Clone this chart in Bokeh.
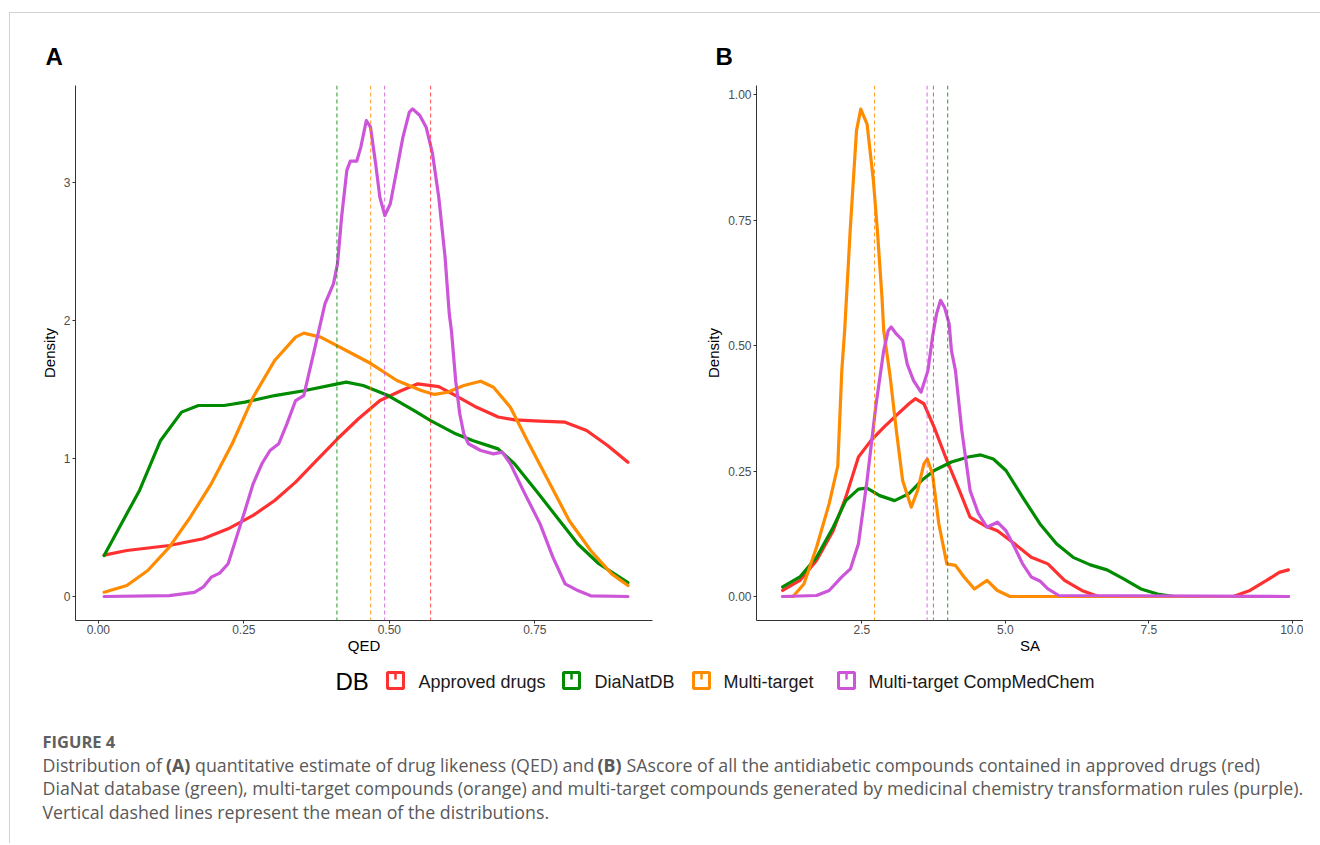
from bokeh.plotting import figure
from bokeh.models import Range1d, FixedTicker, NumeralTickFormatter, Span, Label, Div, Spacer
from bokeh.layouts import row, column
from bokeh.embed import file_html
from bokeh.resources import INLINE

# ---------------- data ----------------
db_names = ["Approved drugs", "DiaNatDB", "Multi-target", "Multi-target CompMedChem"]
db_colors = ["#FF3030", "#008B00", "#FF8C00", "#CC55D9"]

# Panel A: QED densities
qed_approved_x = [0.01, 0.049, 0.122, 0.18, 0.223, 0.266, 0.303, 0.339, 0.375, 0.411, 0.447, 0.484, 0.52, 0.549,
                  0.585, 0.614, 0.65, 0.687, 0.715, 0.759, 0.802, 0.839, 0.875, 0.91]
qed_approved_y = [0.30, 0.333, 0.369, 0.418, 0.49, 0.587, 0.695, 0.828, 0.985, 1.142, 1.287, 1.419, 1.49, 1.54,
                  1.52, 1.455, 1.37, 1.30, 1.279, 1.27, 1.262, 1.202, 1.093, 0.972]

qed_dianat_x = [0.01, 0.071, 0.107, 0.143, 0.172, 0.216, 0.252, 0.303, 0.353, 0.411, 0.426, 0.455, 0.498, 0.542,
                0.571, 0.614, 0.643, 0.687, 0.715, 0.752, 0.788, 0.824, 0.86, 0.91]
qed_dianat_y = [0.297, 0.77, 1.13, 1.335, 1.383, 1.383, 1.407, 1.455, 1.49, 1.54, 1.552, 1.528, 1.455, 1.347,
                1.274, 1.178, 1.13, 1.069, 0.961, 0.768, 0.574, 0.38, 0.237, 0.10]

qed_multi_x = [0.01, 0.049, 0.085, 0.122, 0.158, 0.194, 0.23, 0.266, 0.303, 0.339, 0.353, 0.382, 0.426, 0.469,
               0.513, 0.556, 0.578, 0.600, 0.628, 0.657, 0.679, 0.708, 0.737, 0.773, 0.809, 0.846, 0.882, 0.91]
qed_multi_y = [0.031, 0.08, 0.188, 0.357, 0.574, 0.816, 1.106, 1.443, 1.709, 1.878, 1.907, 1.878, 1.781, 1.685,
               1.564, 1.49, 1.463, 1.479, 1.528, 1.559, 1.515, 1.37, 1.13, 0.84, 0.55, 0.333, 0.164, 0.08]

qed_cmc_x = [0.01, 0.122, 0.165, 0.18, 0.194, 0.2085, 0.223, 0.2375, 0.252, 0.266, 0.281, 0.295, 0.31, 0.324,
             0.339, 0.353, 0.371, 0.3895, 0.404, 0.411, 0.418, 0.427, 0.433, 0.444, 0.451, 0.4605, 0.4677, 0.4765,
             0.4837, 0.4923, 0.5017, 0.5126, 0.5234, 0.5344, 0.540, 0.5524, 0.5633, 0.5742, 0.585, 0.5958, 0.603,
             0.6067, 0.614, 0.621, 0.628, 0.636, 0.657, 0.679, 0.694, 0.708, 0.73, 0.759, 0.781, 0.802, 0.824,
             0.846, 0.91]
qed_cmc_y = [0, 0.006, 0.03, 0.067, 0.14, 0.169, 0.237, 0.43, 0.623, 0.816, 0.961, 1.057, 1.106, 1.25,
             1.419, 1.455, 1.78, 2.12, 2.264, 2.41, 2.746, 3.085, 3.152, 3.152, 3.254, 3.446, 3.398, 3.133,
             2.892, 2.759, 2.844, 3.085, 3.326, 3.507, 3.531, 3.483, 3.398, 3.206, 2.89, 2.457, 2.047,
             1.926, 1.564, 1.323, 1.178, 1.106, 1.057, 1.033, 1.045, 0.961, 0.768, 0.526, 0.285, 0.092, 0.043,
             0.005, 0]

qed_means = [0.571, 0.41, 0.468, 0.492]

# Panel B: SA score densities
sa_approved_x = [1.12, 1.42, 1.71, 2.0, 2.22, 2.44, 2.66, 2.88, 3.1, 3.32, 3.43, 3.58, 3.76, 3.98, 4.2, 4.385,
                 4.64, 4.86, 5.16, 5.45, 5.74, 6.03, 6.33, 6.62, 8.97, 9.26, 9.55, 9.77, 9.93]
sa_approved_y = [0.012, 0.032, 0.072, 0.131, 0.198, 0.278, 0.311, 0.337, 0.361, 0.384, 0.394, 0.384, 0.337, 0.271,
                 0.211, 0.158, 0.141, 0.131, 0.105, 0.078, 0.065, 0.032, 0.012, 0, 0, 0.012, 0.032, 0.048, 0.053]

sa_dianat_x = [1.12, 1.42, 1.71, 2.0, 2.22, 2.44, 2.59, 2.81, 3.07, 3.32, 3.54, 3.76, 4.06, 4.35, 4.57, 4.79,
               5.01, 5.3, 5.6, 5.89, 6.18, 6.48, 6.77, 7.06, 7.36, 7.65, 7.94, 9.93]
sa_dianat_y = [0.019, 0.039, 0.078, 0.138, 0.191, 0.214, 0.216, 0.201, 0.191, 0.205, 0.231, 0.251, 0.268, 0.278,
               0.282, 0.274, 0.251, 0.198, 0.145, 0.105, 0.078, 0.063, 0.053, 0.035, 0.015, 0.005, 0, 0]

sa_multi_x = [1.12, 1.3, 1.49, 1.71, 1.93, 2.08, 2.15, 2.2, 2.296, 2.406, 2.48, 2.59, 2.70, 2.77, 2.85, 2.88,
              2.99, 3.1, 3.21, 3.36, 3.47, 3.58, 3.64, 3.73, 3.84, 3.98, 4.13, 4.28, 4.46, 4.68, 4.86, 5.08, 9.93]
sa_multi_y = [0, 0, 0.025, 0.098, 0.185, 0.26, 0.45, 0.53, 0.729, 0.928, 0.971, 0.941, 0.829, 0.729, 0.596, 0.53,
              0.44, 0.331, 0.231, 0.178, 0.211, 0.264, 0.274, 0.244, 0.145, 0.065, 0.062, 0.039, 0.015, 0.032,
              0.012, 0, 0]

sa_cmc_x = [1.12, 1.71, 1.93, 2.15, 2.30, 2.44, 2.59, 2.74, 2.88, 2.96, 3.01, 3.1, 3.21, 3.29, 3.40, 3.53, 3.65,
            3.73, 3.80, 3.87, 3.94, 4.02, 4.06, 4.13, 4.24, 4.385, 4.53, 4.68, 4.86, 5.01, 5.16, 5.3, 5.45, 5.6,
            5.74, 5.93, 9.93]
sa_cmc_y = [0, 0.002, 0.012, 0.039, 0.055, 0.105, 0.231, 0.377, 0.49, 0.53, 0.537, 0.523, 0.51, 0.463, 0.43,
            0.407, 0.45, 0.517, 0.563, 0.59, 0.576, 0.543, 0.49, 0.45, 0.331, 0.211, 0.165, 0.138, 0.148, 0.131,
            0.098, 0.065, 0.039, 0.031, 0.015, 0.002, 0]

sa_means = [3.746, 3.995, 2.72, 3.636]

qed_ticks = [0, 0.25, 0.5, 0.75]
qed_dens_ticks = [0, 1, 2, 3]
sa_ticks = [2.5, 5.0, 7.5, 10.0]
sa_dens_ticks = [0, 0.25, 0.5, 0.75, 1.0]

panel_letters = ["A", "B"]
caption_title = "FIGURE 4"
caption_lines = [
    ["Distribution of", "(A)", "quantitative estimate of drug likeness (QED) and", "(B)",
     "SAscore of all the antidiabetic compounds contained in approved drugs (red)"],
    ["DiaNat database (green), multi-target compounds (orange) and multi-target compounds generated by "
     "medicinal chemistry transformation rules (purple)."],
    ["Vertical dashed lines represent the mean of the distributions."],
]

# ---------------- helpers ----------------
AX = "#333333"
SANS = "Liberation Sans"
PANEL_TOP = 72      # screen y where panel figures start
PANEL_H = 593


def panel(width, xr, yr, mbl, mbr, xticks, yticks, xfmt, yfmt, xlabel):
    p = figure(width=width, height=PANEL_H, x_range=Range1d(*xr), y_range=Range1d(*yr),
               output_backend="svg", toolbar_location=None,
               min_border_left=mbl, min_border_right=mbr, min_border_top=85 - PANEL_TOP, min_border_bottom=45)
    p.outline_line_color = None
    p.grid.visible = False
    p.xaxis.ticker = FixedTicker(ticks=xticks)
    p.yaxis.ticker = FixedTicker(ticks=yticks)
    p.xaxis.formatter = NumeralTickFormatter(format=xfmt)
    p.yaxis.formatter = NumeralTickFormatter(format=yfmt)
    p.xaxis.axis_label = xlabel
    p.yaxis.axis_label = "Density"
    for ax in (p.xaxis[0], p.yaxis[0]):
        ax.axis_line_color = AX
        ax.axis_line_width = 1
        ax.major_tick_line_color = AX
        ax.major_tick_out = 3
        ax.major_tick_in = 0
        ax.minor_tick_line_color = None
        ax.major_label_text_font = SANS
        ax.major_label_text_font_size = "12px"
        ax.major_label_text_color = "#4D4D4D"
        ax.axis_label_text_font = SANS
        ax.axis_label_text_font_size = "15px"
        ax.axis_label_text_font_style = "normal"
        ax.axis_label_text_color = "black"
    p.xaxis.major_label_standoff = 1
    p.xaxis.axis_label_standoff = 0
    p.yaxis.major_label_standoff = 2
    p.yaxis.axis_label_standoff = 3
    return p


def strip(width, x0, y0, y1):
    # figure whose data coordinates equal page pixel positions (for text/legend layout)
    p = figure(width=width, height=y1 - y0, x_range=Range1d(x0, x0 + width), y_range=Range1d(y1, y0),
               output_backend="svg", toolbar_location=None, x_axis_type=None, y_axis_type=None,
               min_border=0, min_border_left=0, min_border_right=0, min_border_top=0, min_border_bottom=0)
    p.outline_line_color = None
    p.grid.visible = False
    return p


# ---------------- header (panel letters) ----------------
head = strip(1302, 10, 13, PANEL_TOP)
for lx, letter in zip([45, 715], panel_letters):
    head.add_layout(Label(x=lx, y=56, text=letter, text_font=SANS, text_font_size="24px",
                          text_font_style="bold", text_color="black", text_baseline="middle"))

# ---------------- panel A ----------------
pA = panel(690, (-0.0392, 0.9522), (-0.1738, 3.700), 65, 48, qed_ticks, qed_dens_ticks, "0.00", "0", "QED")
seriesA = [(qed_approved_x, qed_approved_y), (qed_dianat_x, qed_dianat_y),
           (qed_multi_x, qed_multi_y), (qed_cmc_x, qed_cmc_y)]
for (xs, ys), c in zip(seriesA, db_colors):
    pA.line(xs, ys, line_color=c, line_width=3.2, line_join="round", line_cap="round")
for m, c in zip(qed_means, db_colors):
    pA.add_layout(Span(location=m, dimension="height", line_color=c, line_width=1, line_alpha=0.85,
                       line_dash="4 3"))

# ---------------- panel B ----------------
pB = panel(603, (0.664, 10.193), (-0.0478, 1.018), 56, 0, sa_ticks, sa_dens_ticks, "0.0", "0.00", "SA")
seriesB = [(sa_approved_x, sa_approved_y), (sa_dianat_x, sa_dianat_y),
           (sa_multi_x, sa_multi_y), (sa_cmc_x, sa_cmc_y)]
for (xs, ys), c in zip(seriesB, db_colors):
    pB.line(xs, ys, line_color=c, line_width=3.2, line_join="round", line_cap="round")
for m, c in zip(sa_means, db_colors):
    pB.add_layout(Span(location=m, dimension="height", line_color=c, line_width=1, line_alpha=0.85,
                       line_dash="4 3"))

# ---------------- legend strip ----------------
leg = strip(1302, 10, 665, 705)
leg.add_layout(Label(x=335, y=681, text="DB", text_font=SANS, text_font_size="24px",
                     text_color="black", text_baseline="middle"))
key_x = [395, 571, 701, 846]
text_x = [418, 594, 723, 868]
leg.rect(x=key_x, y=680, width=16, height=16, fill_color="white", line_color=db_colors, line_width=3)
leg.segment(x0=key_x, y0=673, x1=key_x, y1=679, line_color=db_colors, line_width=2.5)
for tx, name in zip(text_x, db_names):
    leg.add_layout(Label(x=tx, y=681, text=name, text_font=SANS, text_font_size="18px",
                         text_color="#1a1a1a", text_baseline="middle"))

# ---------------- caption ----------------
cap = strip(1302, 10, 705, 843)
CAP_FONT = "Open Sans"
CAP_COL = "#595959"
CAP_SIZE = "17.8px"
cap.add_layout(Label(x=42, y=741, text=caption_title, text_font=CAP_FONT, text_font_size="16.5px",
                     text_font_style="bold", text_color="#606060", text_baseline="middle"))
seg_x = [42, 165.5, 194.5, 597, 626]
seg_bold = [False, True, False, True, False]
for sx, t, b in zip(seg_x, caption_lines[0], seg_bold):
    cap.add_layout(Label(x=sx, y=764, text=t, text_font=CAP_FONT, text_font_size=CAP_SIZE,
                         text_font_style="bold" if b else "normal", text_color=CAP_COL,
                         text_baseline="middle"))
cap.add_layout(Label(x=42, y=787, text=caption_lines[1][0], text_font=CAP_FONT, text_font_size=CAP_SIZE,
                     text_color=CAP_COL, text_baseline="middle"))
cap.add_layout(Label(x=42, y=811, text=caption_lines[2][0], text_font=CAP_FONT, text_font_size=CAP_SIZE,
                     text_color=CAP_COL, text_baseline="middle"))

# ---------------- layout ----------------
FRAME = "#d2d2d2"
left_line = column(Spacer(width=1, height=12),
                   Div(text="", width=1, height=831, margin=0, styles={"background-color": FRAME}),
                   spacing=0)
top_line = Div(text="", width=1310, height=1, margin=0, styles={"background-color": FRAME})
content = column(Spacer(width=1310, height=12), top_line, head, row(pA, pB, spacing=0), leg, cap, spacing=0)
page = row(Spacer(width=9, height=843), left_line, content, spacing=0)

open("out.html", "w").write(file_html(page, INLINE))
